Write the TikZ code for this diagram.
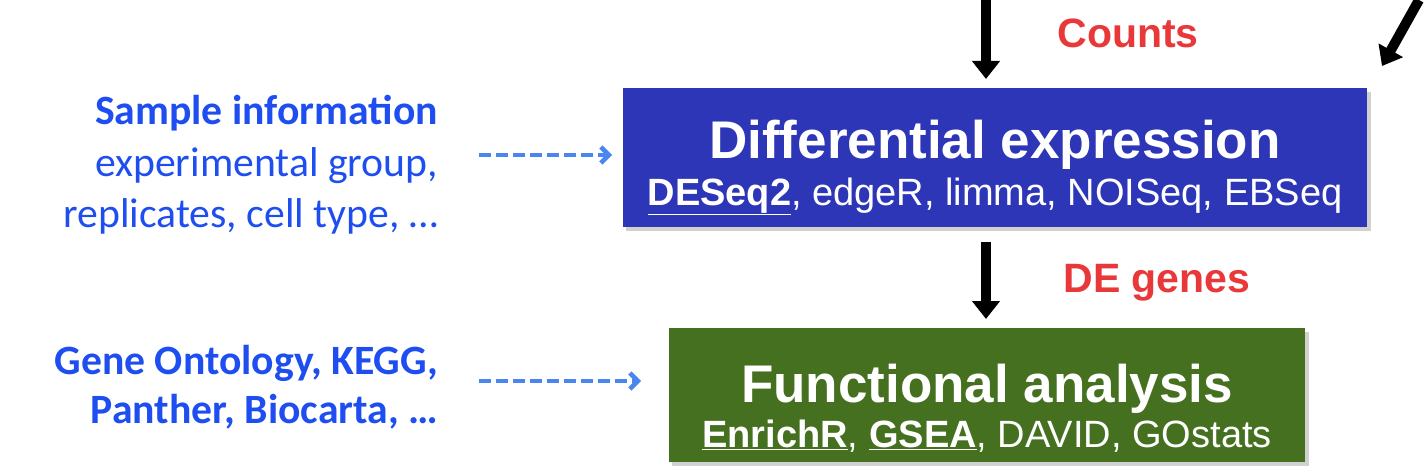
\documentclass[tikz,border=0pt]{standalone}
\usepackage{fontspec}
\setmainfont{Liberation Sans}
\newfontfamily\calib{Carlito}
\usetikzlibrary{arrows.meta}
\definecolor{boxblue}{RGB}{46,54,184}
\definecolor{boxgreen}{RGB}{69,112,31}
\definecolor{txtblue}{RGB}{30,78,240}
\definecolor{dashblue}{RGB}{74,134,240}
\definecolor{lblred}{RGB}{232,56,58}
\tikzset{
  stepbox/.style={draw=none, rectangle, inner sep=0pt, anchor=north west},
  boxshadow/.style={fill=black!18},
  titletxt/.style={text=white, font=\bfseries\fontsize{53}{60}\selectfont, anchor=base, inner sep=0pt},
  subtxt/.style={text=white, font=\fontsize{38}{44}\selectfont, anchor=base, inner sep=0pt},
  redlbl/.style={text=lblred, font=\bfseries\fontsize{41}{48}\selectfont, anchor=base, inner sep=0pt},
  sidetxt/.style={text=txtblue, font=\calib\fontsize{41.7}{50}\selectfont, anchor=base east, inner sep=0pt},
  bigarrow/.style={line width=10pt, -{Triangle[width=27pt,length=18pt]}, black},
  dasharrow/.style={dashblue, line width=4.5pt, dash pattern=on 12pt off 5pt, -{Straight Barb[width=16pt,length=8pt,line width=4.5pt]}},
}
\begin{document}
\begin{tikzpicture}[x=1pt,y=-1pt]
\useasboundingbox (0,0) rectangle (1427,468);
% shadows
\fill[boxshadow] (626,92) rectangle (1371,231);
\fill[boxshadow] (672,332) rectangle (1309,466);
% boxes
\node[stepbox, fill=boxblue, minimum width=744pt, minimum height=139pt] (de) at (623,88) {};
\node[stepbox, fill=boxgreen, minimum width=636pt, minimum height=134pt] (fa) at (669,328) {};
% box texts
\node[titletxt] (detitle) at (995,159) {Differential expression};
\node[subtxt] (desub) at (995,205) {\underline{\textbf{DESeq2}}, edgeR, limma, NOISeq, EBSeq};
\node[titletxt] (fatitle) at (987,402) {Functional analysis};
\node[subtxt] (fasub) at (987,447) {\underline{\textbf{EnrichR}}, \underline{\textbf{GSEA}}, DAVID, GOstats};
% red labels
\node[redlbl] (counts) at (1128,48) {Counts};
\node[redlbl] (degenes) at (1157,292) {DE genes};
% side texts
\node[sidetxt] (sample1) at (438,125) {\textbf{Sample information}};
\node[sidetxt] (sample2) at (438,176) {experimental group,};
\node[sidetxt] (sample3) at (438,227) {replicates, cell type, \dots};
\node[sidetxt] (gene1) at (438,374) {\textbf{Gene Ontology, KEGG,}};
\node[sidetxt] (gene2) at (438,423) {\textbf{Panther, Biocarta, \dots}};
% black arrows
\coordinate (a1) at (986,0);
\coordinate (a2) at (986,242);
\coordinate (d1) at (1419,0);
\coordinate (d2) at (1382,66);
\draw[bigarrow, shorten >=9pt] (a1) -- (a1 |- de.north);
\draw[bigarrow, shorten >=9pt] (a2) -- (a2 |- fa.north);
\draw[bigarrow] (d1) -- (d2);
% dashed arrows
\coordinate (s1) at (479,155);
\coordinate (s2) at (479,381);
\draw[dasharrow, shorten >=11pt] (s1) -- (s1 -| de.west);
\draw[dasharrow, shorten >=28pt] (s2) -- (s2 -| fa.west);
\end{tikzpicture}
\end{document}
